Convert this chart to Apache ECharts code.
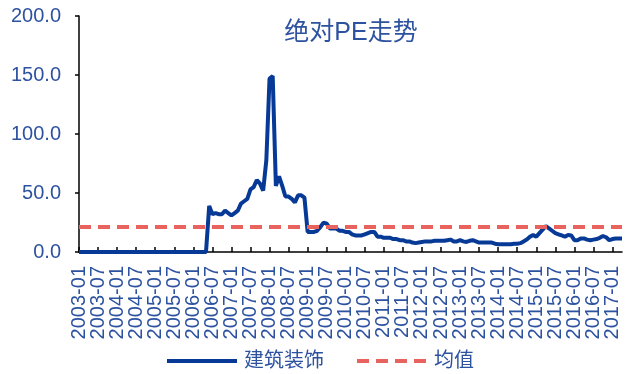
<!DOCTYPE html>
<html>
<head>
<meta charset="utf-8">
<script src="https://cdn.jsdelivr.net/npm/echarts@6/dist/echarts.min.js"></script>
<style>
  html, body { margin: 0; padding: 0; background: #fff; }
  #chart { width: 626px; height: 374px; }
</style>
</head>
<body>
<div id="chart"></div>
<script>
// monthly, 2003-01 .. 2017-04
var months = [];
for (var y = 2003; y <= 2017; y++) {
    for (var m = 1; m <= 12; m++) {
        if (y == 2017 && m > 4) break;
        months.push(y + '-' + (m < 10 ? '0' + m : m));
    }
}

var pe = [
    0, 0, 0, 0, 0, 0, 0, 0, 0, 0, 0, 0,          // 2003
    0, 0, 0, 0, 0, 0, 0, 0, 0, 0, 0, 0,          // 2004
    0, 0, 0, 0, 0, 0, 0, 0, 0, 0, 0, 0,          // 2005
    0, 0, 0, 0, 0, 39, 32, 33, 32, 32, 35, 33,   // 2006
    31, 33, 35, 41, 43, 45, 53, 55, 61, 58, 52, 78, // 2007
    147, 149, 56, 64, 56, 47, 47, 45, 42, 48, 48, 46, // 2008
    17, 17, 17, 18, 21, 25, 24, 20, 20, 20, 18, 18, // 2009
    17, 17, 15, 14, 14, 14, 15, 16, 17, 17, 13, 13, // 2010
    12, 12, 12, 11, 11, 10, 10, 9, 9, 8, 7.5, 8,   // 2011
    8.5, 9, 9, 9, 9.5, 9.5, 9.5, 9.5, 10, 10.5, 9, 9, // 2012
    10, 9, 8.5, 9.5, 10, 9, 8, 8, 8, 8, 8, 7,        // 2013
    6.5, 6.5, 6.5, 6.5, 6.5, 7, 7, 7.5, 9, 10.5, 13, 14.5, // 2014
    13, 16, 19, 22, 20, 18, 16, 15, 14, 13, 14.5, 14, // 2015
    10, 10, 11.5, 11.5, 10.5, 10, 10.5, 11, 12, 13.5, 12.5, 10, // 2016
    11, 11.5, 11.5, 11.5                          // 2017
];

var meanPE = 21.2;

var yTicks = [0, 50, 100, 150, 200];

var textBlue = '#2D52A0';
var fontFam = 'Liberation Sans, Arial, Noto Sans CJK SC';

var chart = echarts.init(document.getElementById('chart'));

function halfYear(i) {
    return i % 6 == 0;
}

var option = {
    animation: false,
    title: {
        text: '绝对PE走势',
        left: 346,
        textAlign: 'center',
        top: 16,
        textStyle: {
            color: textBlue,
            fontSize: 25,
            fontWeight: 'normal',
            fontFamily: fontFam
        }
    },
    legend: {
        data: ['建筑装饰', '均值'],
        left: 160,
        top: 346,
        itemWidth: 70,
        itemHeight: 4,
        itemGap: 31,
        itemStyle: { opacity: 0 },
        lineStyle: { width: 4 },
        textStyle: {
            color: textBlue,
            fontSize: 20,
            fontFamily: fontFam,
            padding: [0, 0, 0, 2]
        }
    },
    grid: {
        left: 79,
        right: 4,
        top: 16,
        bottom: 122,
        containLabel: false
    },
    xAxis: {
        type: 'category',
        boundaryGap: false,
        data: months,
        axisLine: {
            lineStyle: { color: '#000', width: 1.5 }
        },
        axisTick: {
            inside: true,
            length: 5,
            interval: halfYear,
            lineStyle: { color: '#000', width: 1.5 }
        },
        axisLabel: {
            rotate: 90,
            margin: 14,
            interval: 0,
            hideOverlap: false,
            formatter: function (v, i) { return halfYear(i) ? v : ''; },
            color: textBlue,
            fontSize: 20,
            fontFamily: fontFam
        },
        splitLine: { show: false }
    },
    yAxis: {
        type: 'value',
        min: yTicks[0],
        max: yTicks[yTicks.length - 1],
        interval: 50,
        axisLine: {
            show: true,
            lineStyle: { color: '#000', width: 1.5 }
        },
        axisTick: {
            show: true,
            length: 4,
            lineStyle: { color: '#000', width: 1.5 }
        },
        axisLabel: {
            margin: 18,
            color: textBlue,
            fontSize: 20,
            fontFamily: fontFam,
            formatter: function (v) { return v.toFixed(1); }
        },
        splitLine: { show: false }
    },
    series: [{
        name: '建筑装饰',
        type: 'line',
        data: pe,
        symbol: 'none',
        color: '#063A96',
        lineStyle: { color: '#063A96', width: 4 },
        z: 3
    }, {
        name: '均值',
        type: 'line',
        data: [],
        symbol: 'none',
        color: '#E8625E',
        lineStyle: { color: '#E8625E', width: 4, type: [12, 7] },
        markLine: {
            silent: true,
            symbol: 'none',
            label: { show: false },
            lineStyle: { color: '#E8625E', width: 4, type: [12, 7] },
            data: [{ yAxis: meanPE }]
        },
        z: 2
    }]
};

chart.setOption(option);
</script>
</body>
</html>
